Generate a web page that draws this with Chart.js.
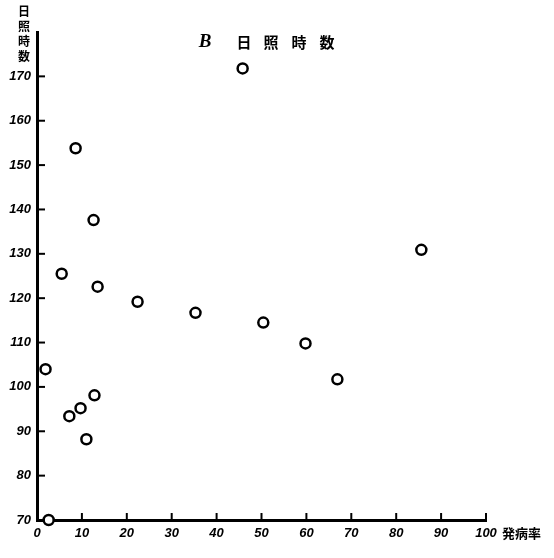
<!DOCTYPE html>
<html>
<head>
<meta charset="utf-8">
<script src="https://cdn.jsdelivr.net/npm/chart.js@4/dist/chart.umd.min.js"></script>
<style>
html,body{margin:0;padding:0;background:#fff;}
canvas{display:block;}
</style>
</head>
<body>
<canvas id="c" width="554" height="558"></canvas>
<script>
// Data
const incidenceRate = [2.6, 1.9, 5.5, 8.6, 7.2, 9.7, 11.0, 12.8, 12.6, 13.5, 22.4, 35.3, 45.8, 50.4, 59.8, 66.9, 85.6];
const sunshineHours = [70, 104, 125.5, 153.8, 93.4, 95.2, 88.2, 98.1, 137.6, 122.6, 119.2, 116.7, 171.8, 114.5, 109.8, 101.7, 130.9];
const xTickValues = [0, 10, 20, 30, 40, 50, 60, 70, 80, 90, 100];
const yTickValues = [70, 80, 90, 100, 110, 120, 130, 140, 150, 160, 170];
const titleLetter = 'B';
const titleText = ['日', '照', '時', '数'];
const yAxisTitle = ['日', '照', '時', '数'];
const xAxisTitle = '発病率';

const points = incidenceRate.map((x, i) => ({x: x, y: sunshineHours[i]}));

const tickFont = {family: '"Liberation Sans", "DejaVu Sans", sans-serif', size: 13, weight: 'bold', style: 'italic'};

const decor = {
  id: 'decor',
  afterDraw(chart) {
    const ctx = chart.ctx;
    const xs = chart.scales.x, ys = chart.scales.y;
    ctx.save();
    ctx.strokeStyle = '#000';
    ctx.lineWidth = 2;
    // inward tick marks
    xTickValues.forEach(v => {
      if (v === 0) return;
      const px = xs.getPixelForValue(v);
      ctx.beginPath();
      ctx.moveTo(px, ys.bottom);
      ctx.lineTo(px, ys.bottom - 7);
      ctx.stroke();
    });
    yTickValues.forEach(v => {
      if (v === 70) return;
      const py = ys.getPixelForValue(v);
      ctx.beginPath();
      ctx.moveTo(xs.left, py);
      ctx.lineTo(xs.left + 8, py);
      ctx.stroke();
    });
    // title
    ctx.fillStyle = '#000';
    ctx.textAlign = 'center';
    ctx.textBaseline = 'middle';
    ctx.font = 'italic bold 19px "Liberation Serif", serif';
    ctx.fillText(titleLetter, 205, 42);
    ctx.font = 'bold 15px "Noto Sans CJK JP", sans-serif';
    const tx = [244, 271, 299, 327];
    titleText.forEach((ch, i) => ctx.fillText(ch, tx[i], 42));
    // y axis title (stacked vertical)
    ctx.font = 'bold 12px "Noto Sans CJK JP", sans-serif';
    yAxisTitle.forEach((ch, i) => ctx.fillText(ch, 24, 11 + i * 15));
    // x axis title
    ctx.font = 'bold 13px "Noto Sans CJK JP", sans-serif';
    ctx.textAlign = 'left';
    ctx.fillText(xAxisTitle, 502, 533);
    ctx.restore();
  }
};

new Chart(document.getElementById('c'), {
  type: 'scatter',
  data: {
    datasets: [{
      data: points,
      pointRadius: 5,
      pointHoverRadius: 5,
      borderWidth: 2.5,
      borderColor: '#000',
      backgroundColor: '#fff',
      clip: false
    }]
  },
  options: {
    responsive: false,
    animation: false,
    events: [],
    layout: {padding: {top: 32, right: 68, left: 0, bottom: 0}},
    plugins: {legend: {display: false}, tooltip: {enabled: false}, title: {display: false}},
    scales: {
      x: {
        type: 'linear',
        min: 0, max: 100,
        afterBuildTicks: s => { s.ticks = xTickValues.map(v => ({value: v})); },
        afterFit: s => { s.height = 38; },
        grid: {display: false, drawTicks: false},
        border: {display: true, width: 3, color: '#000'},
        ticks: {color: '#000', font: tickFont, padding: 6, maxRotation: 0, autoSkip: false}
      },
      y: {
        type: 'linear',
        min: 70, max: 180,
        afterBuildTicks: s => { s.ticks = yTickValues.map(v => ({value: v})); },
        afterFit: s => { s.width = 37; },
        grid: {display: false, drawTicks: false},
        border: {display: true, width: 3, color: '#000'},
        ticks: {color: '#000', font: tickFont, padding: 6, autoSkip: false}
      }
    }
  },
  plugins: [decor]
});
</script>
</body>
</html>
